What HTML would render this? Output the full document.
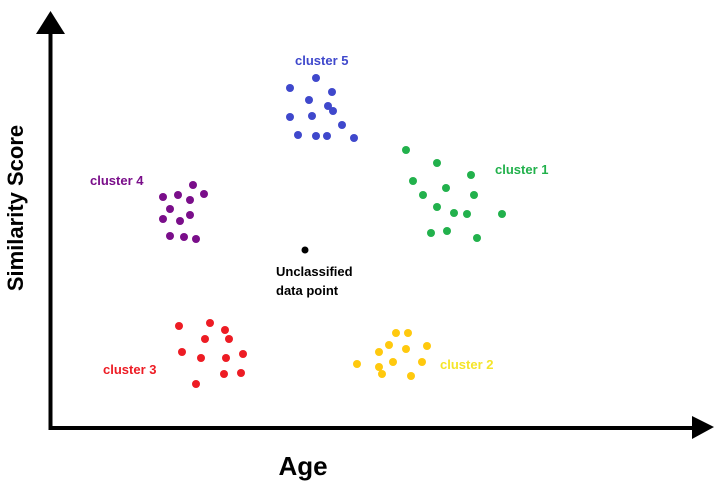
<!DOCTYPE html>
<html><head><meta charset="utf-8"><style>
html,body{margin:0;padding:0;background:#fff;}
svg{display:block;font-family:"Liberation Sans",sans-serif;font-weight:bold;}
</style></head><body>
<svg id="chart" width="721" height="484" viewBox="0 0 721 484">
  <line x1="50.5" y1="30" x2="50.5" y2="430" stroke="#000" stroke-width="4"/>
  <polygon points="50.5,11 36,34 65,34" fill="#000"/>
  <line x1="48.5" y1="428" x2="695" y2="428" stroke="#000" stroke-width="4"/>
  <polygon points="714,427 692,416 692,439" fill="#000"/>
  <text x="0" y="0" transform="translate(23,208) rotate(-90)" text-anchor="middle" font-size="22" fill="#000">Similarity Score</text>
  <text x="303" y="475" text-anchor="middle" font-size="26" fill="#000">Age</text>
  <g id="marks"></g>
</svg>
<script>
// values in axis units: x = age (pixels from y-axis), y = similarity (pixels above x-axis)
const clusterNames = ["cluster 1","cluster 2","cluster 3","cluster 4","cluster 5"];
const clusterColors = ["#22b14c","#ffc90e","#ed1c24","#7a0e8a","#3f48cc"];
const labelColors = ["#22b14c","#f5e52a","#ed1c24","#7a0e8a","#3f48cc"];
const c1x = [357,388,422,364,397,425,374,388,405,418,453,382,398,428];
const c1y = [280,267,255,249,242,235,235,223,217,216,216,197,199,192];
const c2x = [347,359,340,330,357,378,308,330,344,373,333,362];
const c2y = [97,97,85,78,81,84,66,63,68,68,56,54];
const c3x = [130,161,176,156,180,133,152,177,194,175,192,147];
const c3y = [104,107,100,91,91,78,72,72,76,56,57,46];
const c4x = [144,114,129,141,155,121,114,131,141,121,135,147];
const c4y = [245,233,235,230,236,221,211,209,215,194,193,191];
const c5x = [267,241,283,260,279,284,241,263,293,249,267,278,305];
const c5y = [352,342,338,330,324,319,313,314,305,295,294,294,292];
const clusterXs = [c1x,c2x,c3x,c4x,c5x];
const clusterYs = [c1y,c2y,c3y,c4y,c5y];
const labelX = [446,391,54,41,246];
const labelY = [256,61,56,245,365];
const unclassX = [256];
const unclassY = [180];

const X0 = 49, Y0 = 430;
function xScale(v){ return X0 + v; }
function yScale(v){ return Y0 - v; }

const NS = "http://www.w3.org/2000/svg";
const g = document.getElementById("marks");
for (let c = 0; c < clusterXs.length; c++) {
  const grp = document.createElementNS(NS, "g");
  
  
  for (let i = 0; i < clusterXs[c].length; i++) {
    const p = document.createElementNS(NS, "circle");
    p.setAttribute("cx", xScale(clusterXs[c][i]));
    p.setAttribute("cy", yScale(clusterYs[c][i]));
    p.setAttribute("r", 4);
    p.setAttribute("fill", clusterColors[c]);
    
    
    grp.appendChild(p);
  }
  g.appendChild(grp);
  const t = document.createElementNS(NS, "text");
  t.setAttribute("x", xScale(labelX[c]));
  t.setAttribute("y", yScale(labelY[c]));
  t.setAttribute("font-size", "13");
  t.setAttribute("fill", labelColors[c]);
  t.textContent = clusterNames[c];
  
  
  g.appendChild(t);
}
for (let i = 0; i < unclassX.length; i++) {
  const p = document.createElementNS(NS, "circle");
  p.setAttribute("cx", xScale(unclassX[i]));
  p.setAttribute("cy", yScale(unclassY[i]));
  p.setAttribute("r", 3.5);
  p.setAttribute("fill", "#000");
  
  
  g.appendChild(p);
}
const u1 = document.createElementNS(NS, "text");
u1.setAttribute("x", 276); u1.setAttribute("y", 276); u1.setAttribute("font-size", "13"); u1.setAttribute("fill", "#000");
u1.textContent = "Unclassified";


g.appendChild(u1);
const u2 = document.createElementNS(NS, "text");
u2.setAttribute("x", 276); u2.setAttribute("y", 295); u2.setAttribute("font-size", "13"); u2.setAttribute("fill", "#000");
u2.textContent = "data point";


g.appendChild(u2);
</script>
</body></html>
